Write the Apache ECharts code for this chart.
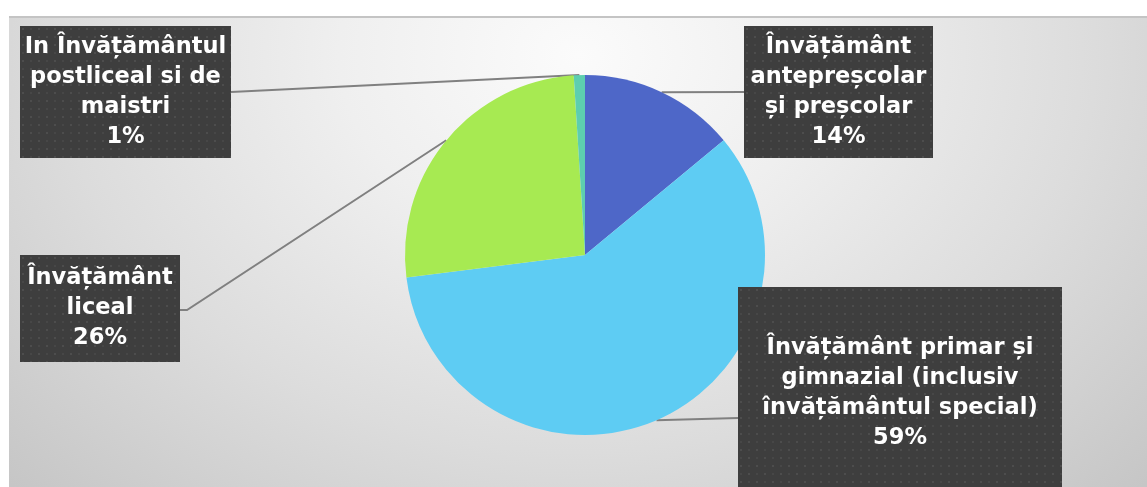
<!DOCTYPE html>
<html><head><meta charset="utf-8">
<script src="https://cdn.jsdelivr.net/npm/echarts@6/dist/echarts.min.js"></script>
<style>
html,body{margin:0;padding:0;width:1147px;height:487px;overflow:hidden;background:#fff;}
#bg{position:absolute;left:9px;top:16px;width:1138px;height:471px;box-sizing:border-box;border-top:2px solid #c4c4c4;
background:radial-gradient(ellipse 70% 130% at 50% 8%, #fbfbfb 0%, #efefef 30%, #dcdcdc 65%, #c6c6c6 100%);}
#chart{position:absolute;left:0;top:0;width:1147px;height:487px;}
</style></head>
<body><div id="bg"></div><div id="chart"></div>
<script>
// ---- data ----
const categories = [
  'Învățământ\nantepreșcolar\nși preșcolar',
  'Învățământ primar și\ngimnazial (inclusiv\nînvățământul special)',
  'Învățământ\nliceal',
  'In Învățământul\npostliceal si de\nmaistri'
];
const values = [14, 59, 26, 1];
const colors = ['#4E67C8', '#5ECCF3', '#A7EA52', '#5DCEAF'];

// ---- label box layout (page px): left, top, width, height ----
const labelBoxes = [[744, 26, 189, 132], [738, 287, 324, 212], [20, 255, 160, 107], [20, 26, 211, 132]];
const lineEnds = [[744, 92], [738, 418], [180, 310], [231, 92]];
const lineElbows = [[744, 92], [738, 418], [187, 310], [231, 92]];
const LH = 30;

function makePattern(w, h) {
  const c = document.createElement('canvas');
  c.width = w; c.height = h;
  const ctx = c.getContext('2d');
  ctx.fillStyle = '#3e3e3e';
  ctx.fillRect(0, 0, w, h);
  for (let y = 2; y < h; y += 8) {
    for (let x = 2; x < w; x += 8) {
      ctx.fillStyle = ((x + y) % 16 === 4) ? '#4d4d4d' : '#474747';
      ctx.fillRect(x, y, 2, 2);
    }
  }
  return c;
}

const chart = echarts.init(document.getElementById('chart'), null, {renderer: 'canvas'});
const data = categories.map((c, i) => {
  const b = labelBoxes[i];
  const nLines = c.split('\n').length + 1;
  const padV = (b[3] - nLines * LH) / 2;
  return {
    name: c,
    value: values[i],
    itemStyle: {color: colors[i]},
    label: {
      padding: [padV, 4, padV, 4],
      width: b[2] - 8,
      backgroundColor: {image: makePattern(b[2], b[3])}
    }
  };
});

chart.setOption({
  backgroundColor: 'transparent',
  animation: false,
  series: [{
    type: 'pie',
    center: [585, 255],
    radius: [0, 180],
    startAngle: 90,
    clockwise: true,
    avoidLabelOverlap: false,
    emphasis: {disabled: true},
    data: data,
    label: {
      show: true,
      position: 'outside',
      formatter: p => p.name + '\n' + Math.round(p.percent) + '%',
      color: '#ffffff',
      fontFamily: 'DejaVu Sans',
      fontWeight: 'bold',
      fontSize: 22.5,
      lineHeight: LH,
      align: 'center',
      overflow: 'none',
      shadowColor: 'rgba(0,0,0,0.5)',
      shadowBlur: 7,
      shadowOffsetX: 3,
      shadowOffsetY: 3
    },
    labelLine: {
      show: true,
      length: 10,
      length2: 10,
      smooth: false,
      lineStyle: {color: '#808080', width: 2}
    },
    labelLayout: function (params) {
      const i = params.dataIndex;
      const b = labelBoxes[i];
      const pts = params.labelLinePoints;
      const start = pts ? pts[0] : lineElbows[i];
      return {
        x: b[0] + b[2] / 2,
        y: b[1],
        align: 'center',
        verticalAlign: 'top',
        labelLinePoints: [start, lineElbows[i], lineEnds[i]]
      };
    }
  }]
});
</script>
</body></html>
